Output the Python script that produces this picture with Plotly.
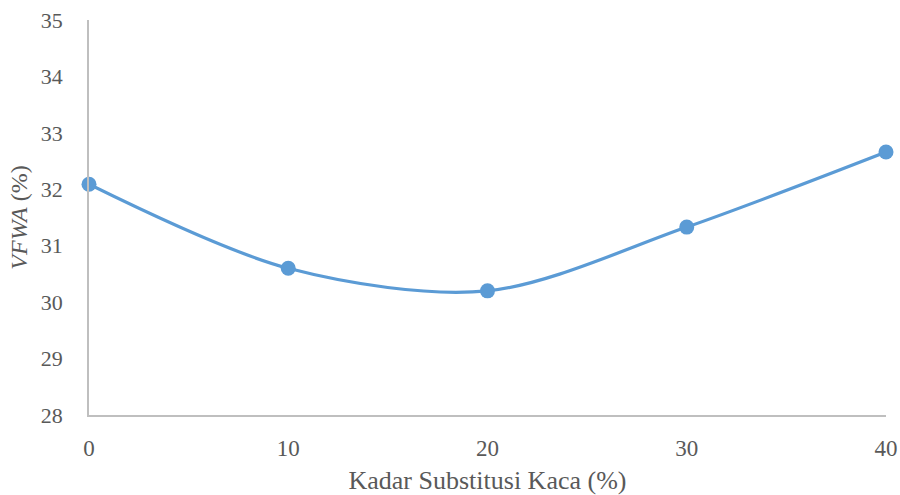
import plotly.graph_objects as go

# Glass substitution level (%) and measured VFWA (%)
kadar_kaca = [0, 10, 20, 30, 40]
vfwa = [32.09, 30.60, 30.20, 31.33, 32.66]

y_ticks = [28, 29, 30, 31, 32, 33, 34, 35]
x_ticks = [0, 10, 20, 30, 40]

text_color = "#595959"
axis_color = "#bfbfbf"
series_color = "#5b9bd5"
font_family = "Liberation Serif"

fig = go.Figure()
fig.add_trace(go.Scatter(
    x=kadar_kaca,
    y=vfwa,
    mode="lines+markers",
    line=dict(color=series_color, width=3.2, shape="spline", smoothing=0.9),
    marker=dict(color=series_color, size=15),
    cliponaxis=False,
    showlegend=False,
))

fig.update_layout(
    width=900,
    height=495,
    margin=dict(l=89, r=14, t=20, b=80),
    paper_bgcolor="white",
    plot_bgcolor="white",
    font=dict(family=font_family, color=text_color, size=22),
    xaxis=dict(
        range=[0, 40],
        tickvals=x_ticks,
        automargin=False,
        showgrid=False,
        zeroline=False,
        showline=True,
        linecolor=axis_color,
        linewidth=1.5,
        ticks="",
        ticklabelstandoff=12,
        tickfont=dict(family=font_family, size=23, color=text_color),
        title=dict(text="Kadar Substitusi Kaca (%)",
                   font=dict(family=font_family, size=26, color=text_color), standoff=11),
    ),
    yaxis=dict(
        range=[28, 35],
        tickvals=y_ticks,
        automargin=False,
        showgrid=False,
        zeroline=False,
        showline=True,
        linecolor=axis_color,
        linewidth=1.5,
        ticks="",
        ticklabelstandoff=20,
        tickfont=dict(family=font_family, size=22, color=text_color),
        title=dict(text="<i>VFWA</i> (%)",
                   font=dict(family=font_family, size=24, color=text_color), standoff=6),
    ),
)

fig.write_html("out.html")
